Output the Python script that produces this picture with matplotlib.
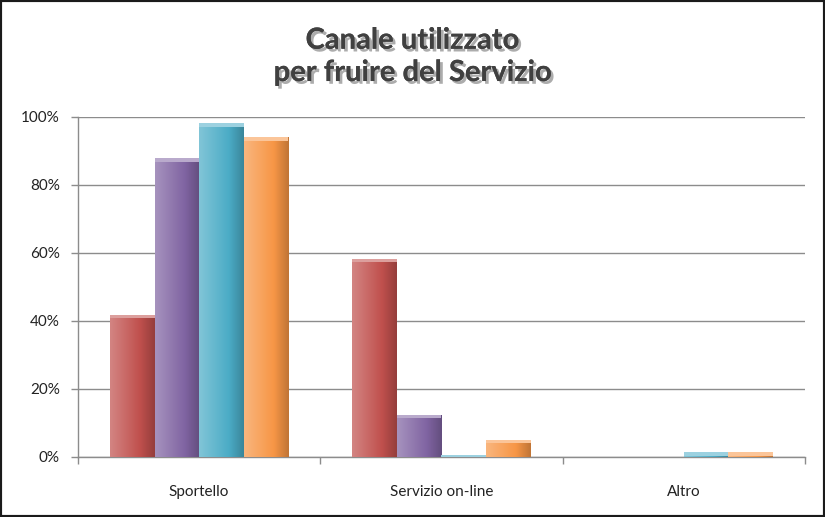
import numpy as np
import matplotlib.pyplot as plt
import matplotlib.patheffects as pe
from matplotlib.colors import LinearSegmentedColormap, to_rgb
from matplotlib.patches import Rectangle

# data (percent)
categories = ["Sportello", "Servizio on-line", "Altro"]
serie_a = [41.8, 58.3, 0.0]
serie_b = [87.8, 12.4, 0.0]
serie_c = [98.1, 0.6, 1.4]
serie_d = [94.0, 5.0, 1.4]
series = [serie_a, serie_b, serie_c, serie_d]
base_colors = ["#C0504D", "#8064A2", "#4BACC6", "#F79646"]
y_ticks = [0, 20, 40, 60, 80, 100]

plt.rcParams["font.family"] = ["Lato", "DejaVu Sans"]


def shade(color, f):
    c = np.array(to_rgb(color))
    if f >= 0:
        return tuple(c + (1 - c) * f)
    return tuple(c * (1 + f))


def gradient_bar(ax, patch, color):
    x, y = patch.get_x(), patch.get_y()
    w, h = patch.get_width(), patch.get_height()
    if h <= 0:
        return
    cmap = LinearSegmentedColormap.from_list(
        "g", [shade(color, 0.3), shade(color, 0.15), color, shade(color, -0.22)]
    )
    grad = np.linspace(0, 1, 64).reshape(1, -1)
    im = ax.imshow(grad, cmap=cmap, aspect="auto", extent=(x, x + w, y, y + h),
                   zorder=3, interpolation="bicubic")
    im.set_clip_path(patch)
    # light bevel at the top
    top = min(h, 1.0)
    ax.add_patch(Rectangle((x, y + h - top), w, top, color=shade(color, 0.45),
                           zorder=4, lw=0))


fig = plt.figure(figsize=(8.25, 5.17), dpi=100)
ax = fig.add_axes([0.0945, 0.1161, 0.8813, 0.6576])

n = len(series)
group_w = 0.735
bw = group_w / n
x = np.arange(len(categories))

for i, (vals, col) in enumerate(zip(series, base_colors)):
    offs = x - group_w / 2 + bw * (i + 0.5)
    bars = ax.bar(offs, vals, width=bw, color=col, edgecolor="none", zorder=2)
    for p in bars:
        gradient_bar(ax, p, col)

ax.set_xlim(-0.5, len(categories) - 0.5)
ax.set_ylim(0, 100)
ax.set_yticks(y_ticks)
ax.set_yticklabels([f"{t}%" for t in y_ticks], fontsize=11, color="#222222")
ax.yaxis.grid(True, color="#8c8c8c", lw=1.0, zorder=1)
ax.set_axisbelow(True)

ax.set_xticks(x)
ax.set_xticklabels(categories, fontsize=11, color="#222222")
ax.tick_params(axis="x", length=0, pad=20)
ax.set_xticks(np.arange(len(categories) + 1) - 0.5, minor=True)
ax.tick_params(axis="x", which="minor", length=5, color="#8c8c8c", width=1)
ax.tick_params(axis="y", length=5, color="#8c8c8c", width=1, pad=8)

for s in ["top", "right"]:
    ax.spines[s].set_visible(False)
for s in ["left", "bottom"]:
    ax.spines[s].set_color("#8c8c8c")
    ax.spines[s].set_linewidth(1.0)

fig.text(0.5, 0.89, "Canale utilizzato\nper fruire del Servizio", ha="center",
         va="center", fontsize=21, fontweight="bold", color="#404040",
         linespacing=1.3,
         path_effects=[pe.withSimplePatchShadow(offset=(2, -2), alpha=0.35),
                       pe.Normal()])

# outer frame
fig.patches.append(Rectangle((0, 0), 1, 1, transform=fig.transFigure,
                             fill=False, edgecolor="#1a1a1a", lw=3))

fig.savefig("out.png", dpi=100)
